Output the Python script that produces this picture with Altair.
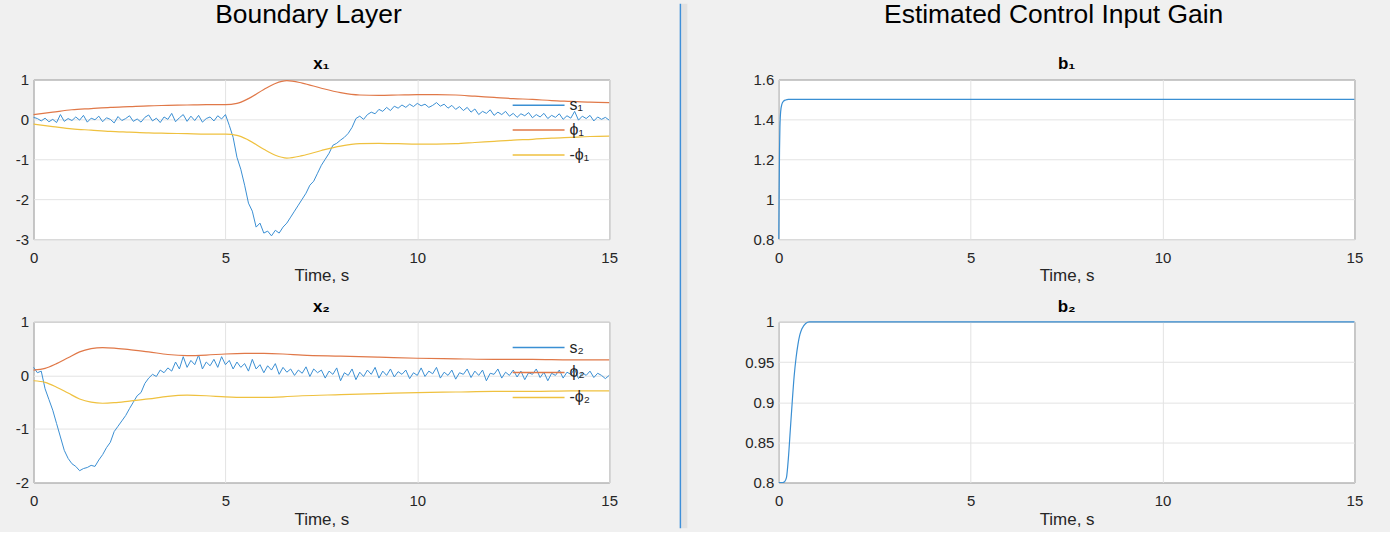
import altair as alt
import pandas as pd

FONT = "Liberation Sans"
TEXT = "#262626"
GRID = "#e3e3e3"
BLUE, ORANGE, YELLOW = "#3a8fd3", "#e07848", "#efc13f"

# sliding surfaces, sampled every DT seconds from t = 0 to 15 s
DT = 0.1
s1 = [
    0.05, 0.02, -0.04, 0.03, -0.06, 0.00, -0.08, 0.12, -0.05, 0.02,
    -0.03, 0.06, -0.02, 0.10, -0.07, 0.03, -0.01, 0.08, -0.06, 0.04,
    0.00, -0.09, 0.07, -0.03, 0.02, 0.09, -0.05, 0.01, -0.07, 0.05,
    0.11, -0.04, 0.03, -0.08, 0.06, 0.00, 0.15, -0.06, 0.04, 0.12,
    -0.05, 0.08, -0.03, 0.10, -0.07, 0.02, 0.06, -0.04, 0.09, 0.01,
    0.12, -0.15, -0.45, -0.95, -1.25, -1.65, -2.10, -2.30, -2.70, -2.60,
    -2.85, -2.80, -2.92, -2.78, -2.85, -2.70, -2.60, -2.45, -2.30, -2.15,
    -2.00, -1.85, -1.65, -1.55, -1.35, -1.15, -1.00, -0.85, -0.65, -0.60,
    -0.52, -0.45, -0.35, -0.20, 0.02, 0.08, 0.00, 0.12, 0.18, 0.14,
    0.25, 0.20, 0.30, 0.22, 0.33, 0.28, 0.36, 0.30, 0.38, 0.32,
    0.40, 0.34, 0.38, 0.30, 0.35, 0.42, 0.33, 0.38, 0.28, 0.35,
    0.25, 0.32, 0.22, 0.30, 0.18, 0.26, 0.12, 0.20, 0.15, 0.24,
    0.10, 0.18, 0.12, 0.20, 0.08, 0.15, 0.05, 0.14, 0.09, 0.17,
    0.04, 0.12, 0.06, 0.15, 0.02, 0.10, 0.05, 0.14, 0.00, 0.09,
    0.03, 0.20, -0.02, 0.08, 0.02, 0.10, -0.04, 0.06, 0.00, 0.05,
    -0.02,
]
s2 = [
    0.15, 0.05, 0.08, -0.25, -0.45, -0.65, -0.90, -1.15, -1.40, -1.55,
    -1.65, -1.70, -1.78, -1.74, -1.72, -1.68, -1.70, -1.58, -1.48, -1.35,
    -1.25, -1.05, -0.95, -0.85, -0.75, -0.62, -0.50, -0.38, -0.32, -0.15,
    -0.05, 0.02, -0.02, 0.10, 0.05, 0.14, 0.08, 0.25, 0.12, 0.35,
    0.15, 0.28, 0.20, 0.38, 0.12, 0.25, 0.18, 0.30, 0.15, 0.35,
    0.20, 0.28, 0.12, 0.25, 0.15, 0.22, 0.08, 0.30, 0.12, 0.20,
    0.05, 0.18, 0.10, 0.22, 0.02, 0.15, 0.06, 0.12, 0.00, 0.10,
    0.04, 0.16, -0.02, 0.12, 0.05, 0.10, -0.05, 0.08, 0.02, 0.14,
    -0.10, 0.05, 0.00, 0.12, -0.08, 0.06, -0.02, 0.10, 0.02, 0.15,
    -0.05, 0.08, 0.00, 0.12, -0.03, 0.07, 0.02, 0.10, -0.06, 0.05,
    0.00, 0.14, -0.02, 0.08, 0.03, 0.15, -0.05, 0.06, 0.00, 0.10,
    -0.07, 0.05, 0.02, 0.12, -0.04, 0.08, 0.00, 0.10, -0.10, 0.04,
    0.02, 0.12, -0.05, 0.06, 0.00, 0.10, -0.03, 0.08, -0.08, 0.05,
    0.02, 0.12, -0.04, 0.06, -0.10, 0.04, 0.00, 0.10, -0.05, 0.06,
    0.02, 0.12, -0.06, 0.05, 0.00, 0.08, -0.04, 0.04, 0.00, -0.06,
    0.00,
]

# boundary layer thickness phi(t)
phi1_t = [0, 0.5, 1, 1.5, 2, 2.5, 3, 3.5, 4, 4.5, 5, 5.3, 5.6, 6.0, 6.3, 6.6,
          7.0, 7.5, 8.0, 8.5, 9.0, 9.5, 10, 10.5, 11, 11.5, 12, 12.5, 13, 13.5,
          14, 14.5, 15]
phi1_v = [0.12, 0.18, 0.24, 0.27, 0.30, 0.32, 0.34, 0.35, 0.36, 0.37, 0.37, 0.40,
          0.52, 0.75, 0.90, 0.97, 0.91, 0.78, 0.67, 0.61, 0.60, 0.61, 0.62, 0.62,
          0.61, 0.58, 0.55, 0.52, 0.50, 0.47, 0.45, 0.43, 0.42]
phi2_t = [0, 0.3, 0.6, 0.9, 1.2, 1.5, 1.8, 2.1, 2.5, 3.0, 3.5, 4.0, 4.5, 5.0, 5.5,
          6.0, 6.5, 7.0, 8.0, 9.0, 10, 11, 12, 13, 14, 15]
phi2_v = [0.10, 0.13, 0.22, 0.33, 0.44, 0.50, 0.52, 0.51, 0.48, 0.44, 0.39, 0.37,
          0.38, 0.40, 0.41, 0.41, 0.40, 0.38, 0.36, 0.34, 0.32, 0.31, 0.30, 0.30,
          0.29, 0.29]

# estimated control input gains
b1_t = [0, 0.01, 0.02, 0.03, 0.05, 0.08, 0.12, 0.18, 0.25, 15]
b1_v = [0.80, 1.05, 1.25, 1.36, 1.44, 1.475, 1.49, 1.497, 1.50, 1.50]
b2_t = [0, 0.1, 0.15, 0.2, 0.25, 0.3, 0.35, 0.4, 0.45, 0.5, 0.55, 0.6, 0.7, 0.8, 15]
b2_v = [0.80, 0.80, 0.801, 0.806, 0.83, 0.865, 0.90, 0.932, 0.955, 0.972, 0.984,
        0.991, 0.998, 1.0, 1.0]

x_ticks = [0, 5, 10, 15]
y_ticks_x1 = [-3, -2, -1, 0, 1]
y_ticks_x2 = [-2, -1, 0, 1]
y_ticks_b1 = [0.8, 1.0, 1.2, 1.4, 1.6]
y_ticks_b2 = [0.8, 0.85, 0.9, 0.95, 1.0]

SUB = {1: "₁", 2: "₂"}
PLOT_W = 577


def surface_frame(values, name):
    return pd.DataFrame({"t": [round(i * DT, 2) for i in range(len(values))],
                         "v": values, "series": name})


def phi_frame(t, v, pos, neg):
    return pd.DataFrame({"t": list(t) + list(t),
                         "v": list(v) + [-x for x in v],
                         "series": [pos] * len(t) + [neg] * len(t)})


def x_axis():
    return alt.Axis(values=x_ticks, title="Time, s", labelFontSize=15, titleFontSize=17,
                    titleFontWeight="normal", labelColor=TEXT, titleColor=TEXT,
                    labelFont=FONT, titleFont=FONT, ticks=False, domain=False,
                    grid=True, gridColor=GRID, labelPadding=11, titlePadding=3,
                    labelFlush=False)


def y_axis(ticks):
    return alt.Axis(values=ticks, title=None, labelFontSize=15, labelColor=TEXT,
                    labelFont=FONT, ticks=False, domain=False, grid=True,
                    gridColor=GRID, labelPadding=5, labelExpr="'' + datum.value",
                    labelFlush=False)


def sub_title(text):
    return alt.TitleParams(text, fontSize=17, fontWeight="bold", font=FONT,
                           color="#000000", frame="group", anchor="middle", offset=-1)


def surface_panel(s_vals, phi_t, phi_v, idx, ticks, height):
    k = SUB[idx]
    names = [f"s{k}", f"ϕ{k}", f"-ϕ{k}"]
    # long horizontal stroke as the legend key
    color = alt.Color("series:N", scale=alt.Scale(domain=names, range=[BLUE, ORANGE, YELLOW]),
                      legend=alt.Legend(orient="none", legendX=492.25, legendY=11.75, title=None,
                                        symbolType="M-2,0H2", symbolSize=676,
                                        symbolStrokeWidth=1.5, labelFontSize=16,
                                        labelFont=FONT, labelColor=TEXT, labelOffset=17,
                                        rowPadding=3, padding=0))
    x = alt.X("t:Q", scale=alt.Scale(domain=[0, 15], nice=False), axis=x_axis())
    y = alt.Y("v:Q", scale=alt.Scale(domain=[ticks[0], ticks[-1]], nice=False, zero=False),
              axis=y_axis(ticks))
    s_layer = alt.Chart(surface_frame(s_vals, names[0])).mark_line(strokeWidth=1).encode(
        x=x, y=y, color=color)
    phi_layer = alt.Chart(phi_frame(phi_t, phi_v, names[1], names[2])).mark_line(
        strokeWidth=1.2, interpolate="monotone").encode(x=x, y=y, color=color)
    return alt.layer(s_layer, phi_layer).properties(
        width=PLOT_W, height=height, title=sub_title(f"x{k}"))


def gain_panel(t, v, idx, ticks, height):
    df = pd.DataFrame({"t": t, "v": v})
    return alt.Chart(df).mark_line(strokeWidth=1.2, color=BLUE, interpolate="monotone").encode(
        x=alt.X("t:Q", scale=alt.Scale(domain=[0, 15], nice=False), axis=x_axis()),
        y=alt.Y("v:Q", scale=alt.Scale(domain=[ticks[0], ticks[-1]], nice=False, zero=False),
                axis=y_axis(ticks)),
    ).properties(width=PLOT_W, height=height, title=sub_title(f"b{SUB[idx]}"))


def column_title(text, dx):
    return alt.TitleParams(text, fontSize=26.5, fontWeight="normal", font=FONT, color="#000000",
                           frame="bounds", anchor="middle", dx=dx, offset=27)


left = alt.vconcat(
    surface_panel(s1, phi1_t, phi1_v, 1, y_ticks_x1, 160),
    surface_panel(s2, phi2_t, phi2_v, 2, y_ticks_x2, 161),
    spacing=83, bounds="flush", title=column_title("Boundary Layer", -8),
).resolve_scale(color="independent")

right = alt.vconcat(
    gain_panel(b1_t, b1_v, 1, y_ticks_b1, 160),
    gain_panel(b2_t, b2_v, 2, y_ticks_b2, 161),
    spacing=83, bounds="flush", title=column_title("Estimated Control Input Gain", 0),
)

# panel separator between the two groups of plots
SEP_W = 105.5
sep_src = pd.DataFrame({"k": [0]})
separator = alt.layer(
    alt.Chart(sep_src).mark_rule(color="#e2e2e2", strokeWidth=6).encode(
        x=alt.value(56.4), y=alt.value(-76), y2=alt.value(450)),
    alt.Chart(sep_src).mark_rule(color="#3f8fd8", strokeWidth=1.5).encode(
        x=alt.value(52.4), y=alt.value(-76), y2=alt.value(450)),
).properties(width=SEP_W, height=160,
             view=alt.ViewBackground(fillOpacity=0, strokeOpacity=0))

chart = alt.hconcat(left, separator, right, spacing=10).resolve_scale(
    color="independent"
).properties(
    padding={"left": 14.65, "top": 0, "right": 26.7, "bottom": 0}
).configure(
    background="#f0f0f0", font=FONT
).configure_view(
    fill="white", stroke="#5a5a5a", strokeWidth=1
)

chart.save("out.html", embed_options={"renderer": "svg", "actions": False})
